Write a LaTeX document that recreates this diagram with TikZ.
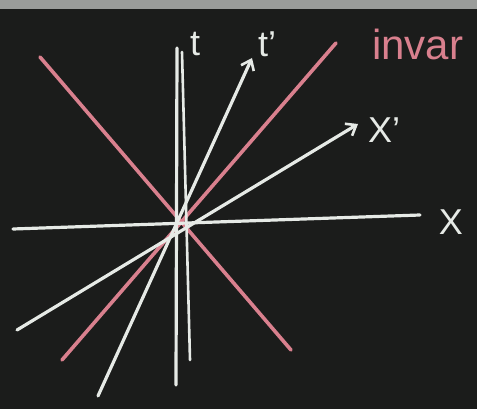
\documentclass[tikz,border=0pt]{standalone}
\usepackage{fontspec}
\setmainfont{Liberation Sans}
\usetikzlibrary{arrows.meta}
\definecolor{board}{HTML}{1B1C1B}
\definecolor{tray}{HTML}{9A9C9A}
\definecolor{chalk}{HTML}{E6EAE6}
\definecolor{pinkchalk}{HTML}{D9808E}
\begin{document}
\begin{tikzpicture}[x=1pt, y=-1pt, line cap=round, line join=round,
    chalkline/.style={chalk, line width=3.2pt},
    pinkline/.style={pinkchalk, line width=3.6pt},
    axislabel/.style={text=chalk, font=\fontsize{36}{36}\selectfont, inner sep=0pt},
    barb/.style={-{Straight Barb[length=9pt, width=14pt, line width=2.6pt]}}]
  % tafel
  \fill[board] (0,0) rectangle (477,409);
  \fill[tray] (0,0) rectangle (477,9);
  \useasboundingbox (0,0) rectangle (477,409);
  % rote lichtkegel-linien
  \draw[pinkline] (40,57) -- (291,350);
  \draw[pinkline] (62,360) -- (336,43);
  \draw[pinkline, line width=2pt] (75,345) -- (150,258);
  % x-achse
  \draw[chalkline] (13,229) -- (420,215);
  \node[axislabel] (xlab) at (451,222) {X};
  % t-achse (doppelt)
  \draw[chalkline] (177,48) -- (176,385);
  \draw[chalkline, line width=2.6pt] (182,52) -- (190,360);
  \node[axislabel, anchor=west] (tlab) at (190,44) {t};
  % t'-achse
  \draw[chalkline, barb] (98,396) -- (252,58);
  \node[axislabel, anchor=west] (tplab) at (258,44) {t'};
  % x'-achse
  \draw[chalkline, barb] (17,330) -- (358,124);
  \node[axislabel, anchor=west] (xplab) at (368,130) {X'};
  % beschriftung
  \node[text=pinkchalk, font=\fontsize{42}{42}\selectfont, inner sep=0pt, anchor=west] (invar) at (372,44) {invar};
\end{tikzpicture}
\end{document}
